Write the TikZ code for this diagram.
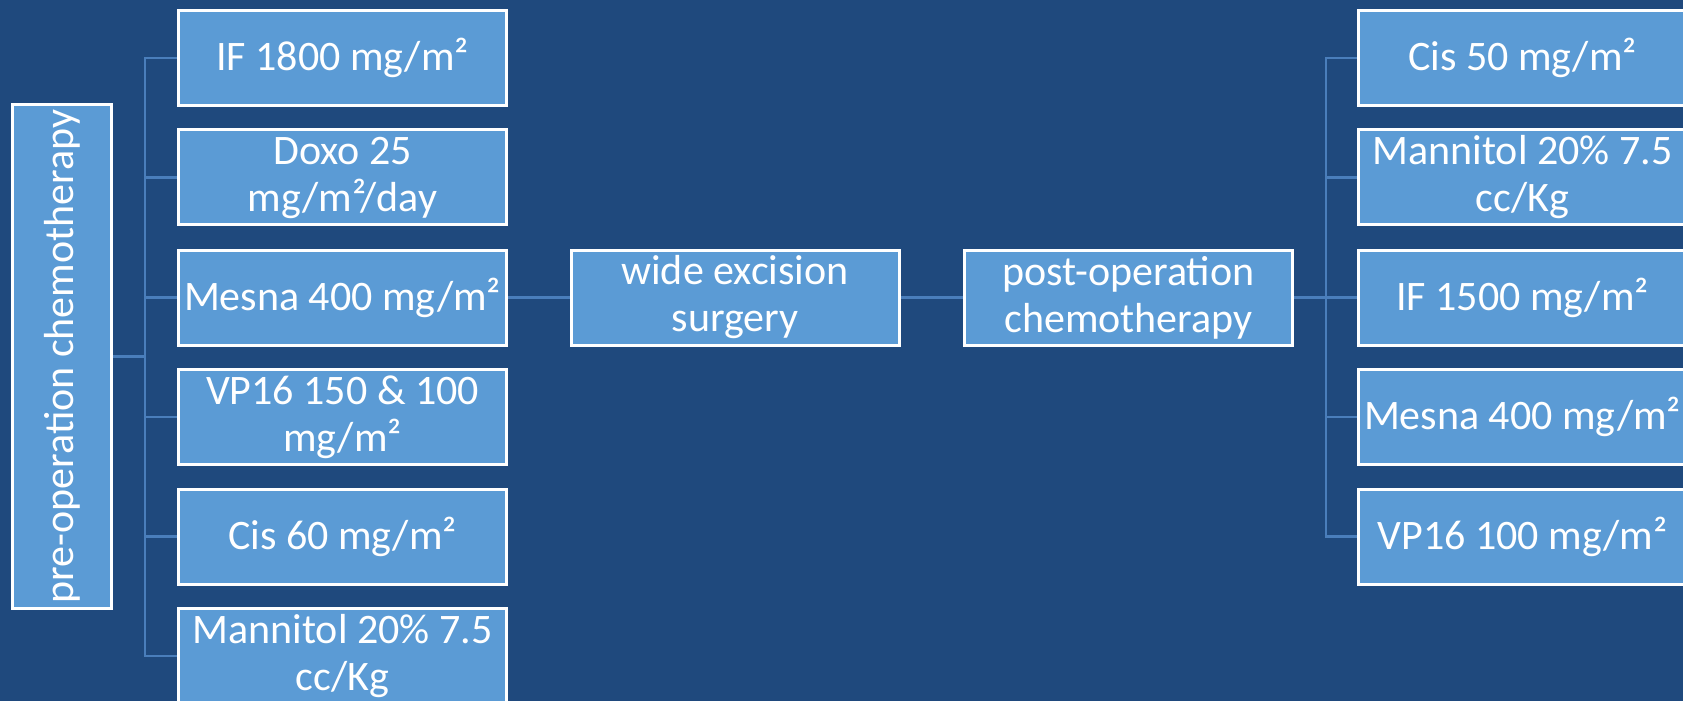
\documentclass[tikz,border=0pt]{standalone}
\usepackage{fontspec}
\setmainfont{Carlito}
\usetikzlibrary{backgrounds}
\definecolor{bgblue}{HTML}{1F497D}
\definecolor{boxblue}{HTML}{5B9BD5}
\definecolor{lineblue}{HTML}{4A7EBB}
\tikzset{
  box/.style={draw=white, line width=1.5pt, fill=boxblue, text=white, inner sep=0pt,
    align=center, font=\fontsize{21}{23.5}\selectfont,
    minimum width=164pt, minimum height=47.5pt},
  conn/.style={draw=lineblue, line width=1.4pt},
}
\begin{document}
\begin{tikzpicture}[x=0.5pt, y=-0.5pt]
\useasboundingbox (0,0) rectangle (1683,701);
% left column
\node[box] (l1) at (342.5,58) {IF 1800 mg/m²};
\node[box] (l2) at (342.5,177.5) {Doxo 25\\mg/m²/day};
\node[box] (l3) at (342.5,297.5) {Mesna 400 mg/m²};
\node[box] (l4) at (342.5,417) {VP16 150 \& 100\\mg/m²};
\node[box] (l5) at (342.5,536.5) {Cis 60 mg/m²};
\node[box] (l6) at (342.5,656) {Mannitol 20\% 7.5\\cc/Kg};
\node[box, rotate=90, minimum width=252pt, minimum height=49.5pt] (pre) at (62,356.5) {pre-operation chemotherapy};
% middle
\node[box] (wide) at (735,297.5) {wide excision\\surgery};
\node[box] (post) at (1128.5,297.5) {post-operation\\chemotherapy};
% right column
\node[box] (r1) at (1522.5,58) {Cis 50 mg/m²};
\node[box] (r2) at (1522.5,177.5) {Mannitol 20\% 7.5\\cc/Kg};
\node[box] (r3) at (1522.5,297.5) {IF 1500 mg/m²};
\node[box] (r4) at (1522.5,417) {Mesna 400 mg/m²};
\node[box] (r5) at (1522.5,536.5) {VP16 100 mg/m²};
\coordinate (lbus) at (145,356.5);
\coordinate (rbus) at (1326,297.5);
\begin{pgfonlayer}{background}
\fill[bgblue] (0,0) rectangle (1683,701);
\draw[conn] (pre.south) -- (lbus);
\draw[conn] (l1.west) -| (lbus) |- (l6.west);
\draw[conn] (l2.west) -- (l2.west -| lbus);
\draw[conn] (l3.west) -- (l3.west -| lbus);
\draw[conn] (l4.west) -- (l4.west -| lbus);
\draw[conn] (l5.west) -- (l5.west -| lbus);
\draw[conn] (l3.east) -- (wide.west);
\draw[conn] (wide.east) -- (post.west);
\draw[conn] (post.east) -- (r3.west);
\draw[conn] (r1.west) -| (rbus) |- (r5.west);
\draw[conn] (r2.west) -- (r2.west -| rbus);
\draw[conn] (r4.west) -- (r4.west -| rbus);
\end{pgfonlayer}
\end{tikzpicture}
\end{document}
